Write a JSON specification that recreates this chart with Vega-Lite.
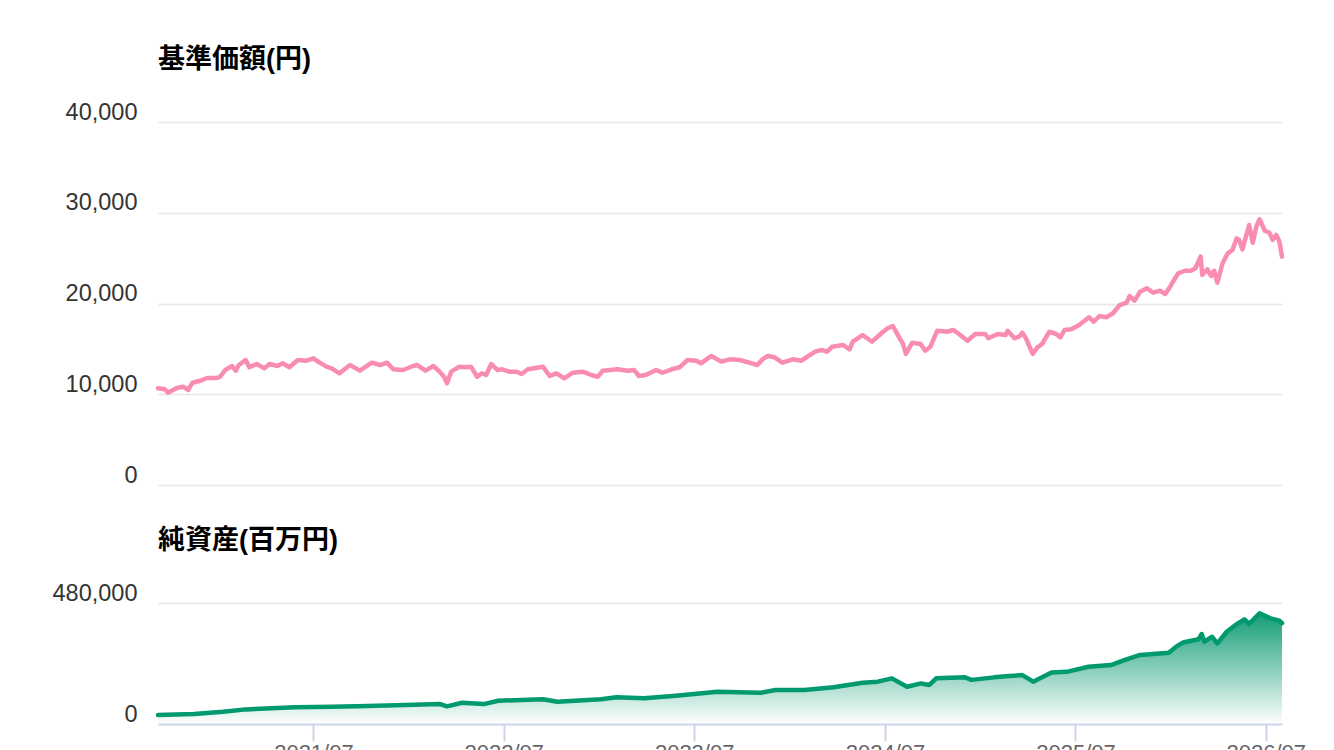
{
  "$schema": "https://vega.github.io/schema/vega-lite/v6.json",
  "padding": {"left": 52, "top": 46, "right": 0, "bottom": 0},
  "background": "white",
  "spacing": 40,
  "config": {
    "view": {"stroke": null},
    "font": "Liberation Sans, Noto Sans CJK JP",
    "axis": {"labelFont": "Liberation Sans", "labelFontSize": 23.5, "labelColor": "#333333"},
    "title": {"font": "Liberation Sans, Noto Sans CJK JP", "fontSize": 27, "fontWeight": "bold", "color": "#000000", "anchor": "start", "frame": "group", "offset": 26}
  },
  "datasets": {
    "nav": [
      {"d": "2020-09-06", "v": 10650}, {"d": "2020-09-19", "v": 10545}, {"d": "2020-09-25", "v": 10170},
      {"d": "2020-10-12", "v": 10690}, {"d": "2020-10-24", "v": 10830}, {"d": "2020-11-03", "v": 10470},
      {"d": "2020-11-11", "v": 11270}, {"d": "2020-11-26", "v": 11490}, {"d": "2020-12-09", "v": 11790},
      {"d": "2020-12-28", "v": 11790}, {"d": "2021-01-03", "v": 11930}, {"d": "2021-01-13", "v": 12670},
      {"d": "2021-01-26", "v": 13110}, {"d": "2021-02-02", "v": 12600}, {"d": "2021-02-08", "v": 13220},
      {"d": "2021-02-21", "v": 13770}, {"d": "2021-02-28", "v": 12970}, {"d": "2021-03-14", "v": 13330},
      {"d": "2021-03-29", "v": 12860}, {"d": "2021-04-08", "v": 13330}, {"d": "2021-04-23", "v": 13110},
      {"d": "2021-05-03", "v": 13410}, {"d": "2021-05-16", "v": 12970}, {"d": "2021-06-01", "v": 13770},
      {"d": "2021-06-18", "v": 13700}, {"d": "2021-07-01", "v": 13960}, {"d": "2021-07-13", "v": 13480},
      {"d": "2021-07-26", "v": 13040}, {"d": "2021-08-05", "v": 12860}, {"d": "2021-08-20", "v": 12310},
      {"d": "2021-09-09", "v": 13220}, {"d": "2021-09-28", "v": 12600}, {"d": "2021-10-21", "v": 13480},
      {"d": "2021-11-06", "v": 13220}, {"d": "2021-11-19", "v": 13480}, {"d": "2021-12-01", "v": 12750},
      {"d": "2021-12-20", "v": 12670}, {"d": "2022-01-08", "v": 13110}, {"d": "2022-01-16", "v": 13220},
      {"d": "2022-02-01", "v": 12600}, {"d": "2022-02-16", "v": 13110}, {"d": "2022-02-28", "v": 12490},
      {"d": "2022-03-09", "v": 11870}, {"d": "2022-03-14", "v": 11210}, {"d": "2022-03-22", "v": 12490},
      {"d": "2022-04-07", "v": 13040}, {"d": "2022-04-20", "v": 12970}, {"d": "2022-04-29", "v": 13040},
      {"d": "2022-05-11", "v": 11930}, {"d": "2022-05-20", "v": 12310}, {"d": "2022-05-28", "v": 12120},
      {"d": "2022-06-07", "v": 13330}, {"d": "2022-06-19", "v": 12670}, {"d": "2022-06-28", "v": 12750},
      {"d": "2022-07-11", "v": 12490}, {"d": "2022-07-25", "v": 12490}, {"d": "2022-08-04", "v": 12230},
      {"d": "2022-08-16", "v": 12750}, {"d": "2022-09-14", "v": 13040}, {"d": "2022-09-27", "v": 12010},
      {"d": "2022-10-10", "v": 12310}, {"d": "2022-10-25", "v": 11760}, {"d": "2022-11-10", "v": 12370},
      {"d": "2022-11-29", "v": 12490}, {"d": "2022-12-16", "v": 12120}, {"d": "2022-12-28", "v": 11930},
      {"d": "2023-01-07", "v": 12600}, {"d": "2023-02-04", "v": 12750}, {"d": "2023-02-23", "v": 12600},
      {"d": "2023-03-08", "v": 12670}, {"d": "2023-03-17", "v": 12010}, {"d": "2023-03-30", "v": 12120},
      {"d": "2023-04-19", "v": 12670}, {"d": "2023-05-01", "v": 12370}, {"d": "2023-05-19", "v": 12750},
      {"d": "2023-06-03", "v": 12970}, {"d": "2023-06-18", "v": 13770}, {"d": "2023-07-05", "v": 13700},
      {"d": "2023-07-14", "v": 13410}, {"d": "2023-08-03", "v": 14220}, {"d": "2023-08-22", "v": 13590},
      {"d": "2023-09-07", "v": 13850}, {"d": "2023-09-26", "v": 13770}, {"d": "2023-10-15", "v": 13480},
      {"d": "2023-10-30", "v": 13220}, {"d": "2023-11-09", "v": 13850}, {"d": "2023-11-19", "v": 14220},
      {"d": "2023-12-02", "v": 14070}, {"d": "2023-12-17", "v": 13480}, {"d": "2024-01-06", "v": 13850},
      {"d": "2024-01-23", "v": 13700}, {"d": "2024-02-03", "v": 14140}, {"d": "2024-02-18", "v": 14690},
      {"d": "2024-03-01", "v": 14880}, {"d": "2024-03-11", "v": 14690}, {"d": "2024-03-22", "v": 15240},
      {"d": "2024-04-11", "v": 15430}, {"d": "2024-04-24", "v": 14950}, {"d": "2024-04-30", "v": 15790},
      {"d": "2024-05-19", "v": 16530}, {"d": "2024-06-06", "v": 15790}, {"d": "2024-06-25", "v": 16780},
      {"d": "2024-07-06", "v": 17270}, {"d": "2024-07-16", "v": 17520}, {"d": "2024-07-29", "v": 16150},
      {"d": "2024-08-04", "v": 15610}, {"d": "2024-08-10", "v": 14440}, {"d": "2024-08-22", "v": 15680},
      {"d": "2024-09-07", "v": 15540}, {"d": "2024-09-16", "v": 14800}, {"d": "2024-09-26", "v": 15240},
      {"d": "2024-10-09", "v": 17000}, {"d": "2024-10-28", "v": 16890}, {"d": "2024-11-09", "v": 17080},
      {"d": "2024-11-22", "v": 16530}, {"d": "2024-12-06", "v": 15900}, {"d": "2024-12-21", "v": 16640},
      {"d": "2025-01-09", "v": 16640}, {"d": "2025-01-15", "v": 16170}, {"d": "2025-02-02", "v": 16640},
      {"d": "2025-02-17", "v": 16530}, {"d": "2025-02-21", "v": 17000}, {"d": "2025-03-06", "v": 16170},
      {"d": "2025-03-15", "v": 16340}, {"d": "2025-03-21", "v": 16780}, {"d": "2025-03-28", "v": 16170},
      {"d": "2025-04-10", "v": 14440}, {"d": "2025-04-19", "v": 15170}, {"d": "2025-04-28", "v": 15540},
      {"d": "2025-05-12", "v": 16890}, {"d": "2025-05-25", "v": 16640}, {"d": "2025-06-02", "v": 16280},
      {"d": "2025-06-10", "v": 17080}, {"d": "2025-06-23", "v": 17160}, {"d": "2025-07-08", "v": 17630},
      {"d": "2025-07-27", "v": 18480}, {"d": "2025-08-05", "v": 17990}, {"d": "2025-08-16", "v": 18620},
      {"d": "2025-08-29", "v": 18480}, {"d": "2025-09-11", "v": 18920}, {"d": "2025-09-24", "v": 19830},
      {"d": "2025-10-07", "v": 20090}, {"d": "2025-10-13", "v": 20830}, {"d": "2025-10-22", "v": 20310},
      {"d": "2025-11-02", "v": 21300}, {"d": "2025-11-15", "v": 21680}, {"d": "2025-11-27", "v": 21190},
      {"d": "2025-12-10", "v": 21410}, {"d": "2025-12-20", "v": 21050}, {"d": "2025-12-29", "v": 21790},
      {"d": "2026-01-04", "v": 22400}, {"d": "2026-01-14", "v": 23330}, {"d": "2026-01-27", "v": 23610},
      {"d": "2026-02-07", "v": 23610}, {"d": "2026-02-16", "v": 23880}, {"d": "2026-02-26", "v": 25160},
      {"d": "2026-03-01", "v": 23140}, {"d": "2026-03-11", "v": 23770}, {"d": "2026-03-18", "v": 23030},
      {"d": "2026-03-24", "v": 23610}, {"d": "2026-03-30", "v": 22290}, {"d": "2026-04-09", "v": 24430},
      {"d": "2026-04-19", "v": 25530}, {"d": "2026-04-28", "v": 25900}, {"d": "2026-05-06", "v": 27180},
      {"d": "2026-05-11", "v": 27000}, {"d": "2026-05-17", "v": 25970}, {"d": "2026-05-30", "v": 28650},
      {"d": "2026-06-06", "v": 26700}, {"d": "2026-06-13", "v": 28540}, {"d": "2026-06-19", "v": 29280},
      {"d": "2026-06-29", "v": 28020}, {"d": "2026-07-08", "v": 27800}, {"d": "2026-07-14", "v": 27000},
      {"d": "2026-07-21", "v": 27550}, {"d": "2026-07-27", "v": 26810}, {"d": "2026-08-01", "v": 25160}
    ],
    "aum": [
      {"d": "2020-09-06", "v": 35700}, {"d": "2020-11-14", "v": 39700}, {"d": "2021-01-09", "v": 48800},
      {"d": "2021-02-21", "v": 58000}, {"d": "2021-05-27", "v": 66000}, {"d": "2021-08-05", "v": 68700},
      {"d": "2021-10-13", "v": 71000}, {"d": "2021-12-23", "v": 75000}, {"d": "2022-03-01", "v": 79000},
      {"d": "2022-03-14", "v": 70000}, {"d": "2022-04-12", "v": 84500}, {"d": "2022-05-24", "v": 79000},
      {"d": "2022-06-20", "v": 92400}, {"d": "2022-09-14", "v": 98000}, {"d": "2022-10-12", "v": 88000},
      {"d": "2023-01-03", "v": 98000}, {"d": "2023-02-02", "v": 106000}, {"d": "2023-03-27", "v": 102000},
      {"d": "2023-05-21", "v": 111000}, {"d": "2023-07-16", "v": 122000}, {"d": "2023-08-14", "v": 128000},
      {"d": "2023-11-06", "v": 124000}, {"d": "2023-12-04", "v": 135000}, {"d": "2024-01-29", "v": 135000},
      {"d": "2024-03-24", "v": 146000}, {"d": "2024-05-19", "v": 164000}, {"d": "2024-06-17", "v": 168000},
      {"d": "2024-07-14", "v": 181000}, {"d": "2024-08-12", "v": 148000}, {"d": "2024-09-08", "v": 161000},
      {"d": "2024-09-24", "v": 155000}, {"d": "2024-10-07", "v": 181000}, {"d": "2024-12-01", "v": 185000},
      {"d": "2024-12-14", "v": 175000}, {"d": "2025-01-26", "v": 185000}, {"d": "2025-02-24", "v": 190000},
      {"d": "2025-03-21", "v": 194000}, {"d": "2025-04-11", "v": 168000}, {"d": "2025-05-16", "v": 204000},
      {"d": "2025-06-14", "v": 207000}, {"d": "2025-07-26", "v": 227000}, {"d": "2025-09-07", "v": 234000},
      {"d": "2025-10-04", "v": 254000}, {"d": "2025-11-02", "v": 274000}, {"d": "2025-12-27", "v": 283000},
      {"d": "2026-01-10", "v": 307000}, {"d": "2026-01-23", "v": 323000}, {"d": "2026-02-22", "v": 336000},
      {"d": "2026-02-28", "v": 357000}, {"d": "2026-03-05", "v": 327000}, {"d": "2026-03-20", "v": 346000},
      {"d": "2026-03-30", "v": 320000}, {"d": "2026-04-17", "v": 366000}, {"d": "2026-05-07", "v": 397000},
      {"d": "2026-05-21", "v": 415000}, {"d": "2026-05-30", "v": 397000}, {"d": "2026-06-19", "v": 439000},
      {"d": "2026-07-10", "v": 419000}, {"d": "2026-07-27", "v": 410000}, {"d": "2026-08-01", "v": 400000}
    ]
  },
  "vconcat": [
    {
      "width": 1124,
      "height": 363,
      "title": {"text": "基準価額(円)"},
      "data": {"name": "nav"},
      "mark": {"type": "line", "color": "#f98cb2", "strokeWidth": 4.5, "strokeJoin": "round", "strokeCap": "round"},
      "encoding": {
        "x": {"field": "d", "type": "temporal",
              "scale": {"domain": [{"year": 2020, "month": 9, "date": 6}, {"year": 2026, "month": 8, "date": 1}], "nice": false},
              "axis": null},
        "y": {"field": "v", "type": "quantitative",
              "scale": {"domain": [0, 40000], "nice": false},
              "axis": {"values": [0, 10000, 20000, 30000, 40000], "format": ",d", "title": null, "domain": false, "ticks": false,
                       "labelPadding": 21, "labelBaseline": "alphabetic", "labelOffset": -3,
                       "gridColor": "#e6e6e6", "gridWidth": 1.5, "minExtent": 101, "maxExtent": 101}}
      }
    },
    {
      "width": 1124,
      "height": 121,
      "title": {"text": "純資産(百万円)"},
      "data": {"name": "aum"},
      "encoding": {
        "x": {"field": "d", "type": "temporal",
              "scale": {"domain": [{"year": 2020, "month": 9, "date": 6}, {"year": 2026, "month": 8, "date": 1}], "nice": false},
              "axis": {"values": [{"year": 2021, "month": 7, "date": 1}, {"year": 2022, "month": 7, "date": 1}, {"year": 2023, "month": 7, "date": 1},
                                  {"year": 2024, "month": 7, "date": 1}, {"year": 2025, "month": 7, "date": 1}, {"year": 2026, "month": 7, "date": 1}],
                       "format": "%Y/%m", "title": null, "grid": false, "domainColor": "#ccd6eb", "domainWidth": 2,
                       "tickColor": "#ccd6eb", "tickWidth": 2, "tickSize": 17, "labelPadding": 1, "labelColor": "#666666",
                       "labelFontSize": 22, "labelFlush": false, "labelOverlap": false, "zindex": 2}},
        "y": {"field": "v", "type": "quantitative",
              "scale": {"domain": [0, 480000], "nice": false},
              "axis": {"values": [0, 480000], "format": ",d", "title": null, "domain": false, "ticks": false,
                       "labelPadding": 21, "labelBaseline": "alphabetic", "labelOffset": -3,
                       "gridColor": "#e6e6e6", "gridWidth": 1.5, "minExtent": 101, "maxExtent": 101}}
      },
      "layer": [
        {"mark": {"type": "area", "color": {"gradient": "linear", "x1": 0, "y1": 0, "x2": 0, "y2": 1,
                   "stops": [{"offset": 0, "color": "#139d76"}, {"offset": 1, "color": "#ffffff"}]}}},
        {"mark": {"type": "line", "color": "#019a6f", "strokeWidth": 4.5, "strokeJoin": "round", "strokeCap": "round"}}
      ]
    }
  ]
}
